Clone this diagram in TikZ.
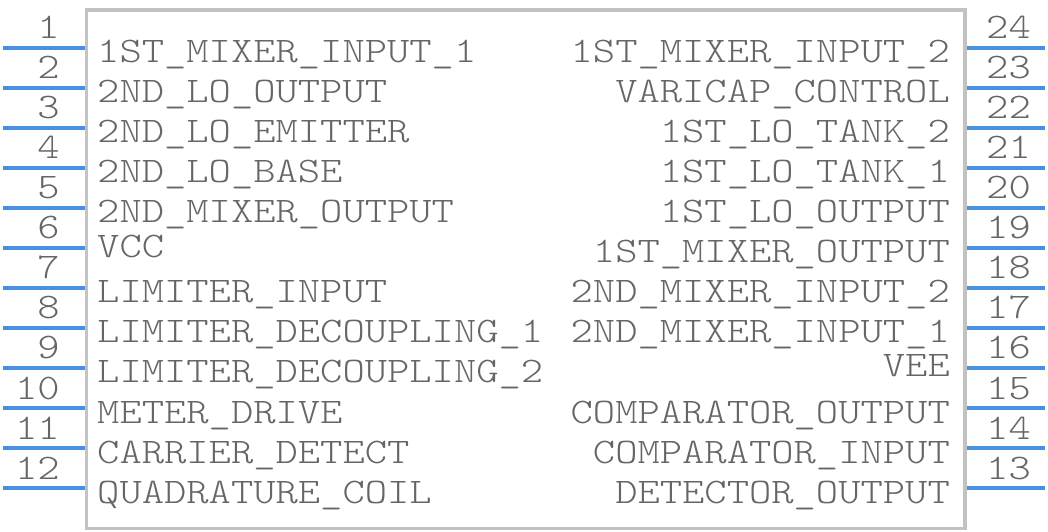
\documentclass[tikz,border=0pt]{standalone}
\usepackage{fontspec}
\setmonofont[FakeStretch=1.18]{lmmonolt10-regular.otf}

\definecolor{pinblue}{RGB}{74,144,226}
\definecolor{bodygrey}{RGB}{194,194,194}
\definecolor{textgrey}{RGB}{102,102,102}

\tikzset{
    chipbody/.style={draw=bodygrey, line width=3.3bp, inner sep=0pt},
    pinline/.style={draw=pinblue, line width=3.3bp},
    chiptext/.style={font=\ttfamily\fontsize{36bp}{40bp}\selectfont, text=textgrey, inner sep=0pt},
}

\begin{document}
\begin{tikzpicture}[x=1bp, y=-1bp]
    \useasboundingbox (0,0) rectangle (1048,532);

    % Chip body
    \node[chipbody, anchor=north west, minimum width=878.8bp, minimum height=518.4bp] (chip) at (84.5,8.3) {};

    % Left pins 1..12
    \foreach \n in {1,...,12} {
        \coordinate (pinL\n) at (3, 8+40*\n);
        \draw[pinline] (pinL\n) -- (pinL\n -| chip.west);
        \node[chiptext, anchor=base east] (numL\n) at (60, -1+40*\n) {\n};
    }

    % Right pins 24..13
    \foreach \r in {1,...,12} {
        \pgfmathtruncatemacro{\m}{25-\r}
        \coordinate (pinR\m) at (1045, 8+40*\r);
        \draw[pinline] (pinR\m) -- (pinR\m -| chip.east);
        \node[chiptext, anchor=base west] (numR\m) at (986, -1+40*\r) {\m};
    }

    % Pin names, left side
    \foreach \row/\txt/\dy in {1/1ST\_MIXER\_INPUT\_1/0, 2/2ND\_LO\_OUTPUT/0, 3/2ND\_LO\_EMITTER/0,
        4/2ND\_LO\_BASE/0, 5/2ND\_MIXER\_OUTPUT/0, 6/VCC/5, 7/LIMITER\_INPUT/0,
        8/LIMITER\_DECOUPLING\_1/0, 9/LIMITER\_DECOUPLING\_2/0, 10/METER\_DRIVE/0,
        11/CARRIER\_DETECT/0, 12/QUADRATURE\_COIL/0} {
        \node[chiptext, anchor=base west, yshift=\dy bp] (lblL\row) at (97, 23+40*\row) {\txt};
    }

    % Pin names, right side
    \foreach \row/\txt/\dy in {1/1ST\_MIXER\_INPUT\_2/0, 2/VARICAP\_CONTROL/0, 3/1ST\_LO\_TANK\_2/0,
        4/1ST\_LO\_TANK\_1/0, 5/1ST\_LO\_OUTPUT/0, 6/1ST\_MIXER\_OUTPUT/0, 7/2ND\_MIXER\_INPUT\_2/0,
        8/2ND\_MIXER\_INPUT\_1/0, 9/VEE/6, 10/COMPARATOR\_OUTPUT/0,
        11/COMPARATOR\_INPUT/0, 12/DETECTOR\_OUTPUT/0} {
        \node[chiptext, anchor=base east, yshift=\dy bp] (lblR\row) at (950, 23+40*\row) {\txt};
    }
\end{tikzpicture}
\end{document}
